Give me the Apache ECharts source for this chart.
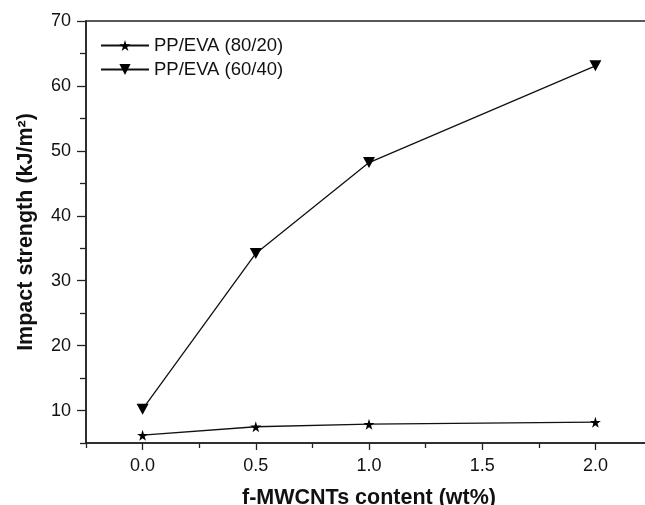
<!DOCTYPE html>
<html>
<head>
<meta charset="utf-8">
<title>Impact strength</title>
<style>
  html, body { margin: 0; padding: 0; background: #fff; }
</style>
</head>
<body>
    <div id="main" style="width: 645px; height: 505px;"></div>

    <script src="https://cdn.jsdelivr.net/npm/echarts@6/dist/echarts.min.js"></script>

    <script type="text/javascript">
        // data
        var xContent = [0.0, 0.5, 1.0, 2.0];
        var pp8020 = [6.2, 7.5, 7.9, 8.2];
        var pp6040 = [10.2, 34.2, 48.2, 63.1];

        var yMajor = [10, 20, 30, 40, 50, 60, 70];
        var yMinor = [5, 15, 25, 35, 45, 55, 65];
        var xMajor = [0.0, 0.5, 1.0, 1.5, 2.0];
        var xMinor = [-0.25, 0.25, 0.75, 1.25, 1.75, 2.25];

        var font = 'Liberation Sans, Arial, sans-serif';
        var ink = '#111';

        var star = 'path://M50,0 L61,35 L98,35 L68,57 L79,91 L50,70 L21,91 L32,57 L2,35 L39,35 Z';
        var downTri = 'path://M0,0 L10,0 L5,9 Z';

        function pairs(xs, ys) {
            return xs.map(function (x, i) { return [x, ys[i]]; });
        }

        var myChart = echarts.init(document.getElementById('main'));

        var option = {
            animation: false,
            backgroundColor: '#fff',
            grid: {
                left: 86, top: 21, right: -7, bottom: 62,
                outerBoundsMode: 'none',
                show: true, borderColor: '#222', borderWidth: 1.5
            },
            legend: {
                left: 100, top: 36, padding: 0,
                orient: 'vertical',
                itemWidth: 48, itemHeight: 14, itemGap: 5,
                textStyle: { fontFamily: font, fontSize: 18.5, color: ink },
                data: ['PP/EVA (80/20)', 'PP/EVA (60/40)']
            },
            xAxis: [{
                type: 'value', min: -0.25, max: 2.25,
                name: 'f-MWCNTs content (wt%)', nameLocation: 'middle', nameGap: 44,
                nameTextStyle: { fontFamily: font, fontSize: 21.5, fontWeight: 'bold', color: ink },
                axisLine: { show: true, onZero: false, lineStyle: { color: '#222', width: 1.5 } },
                axisTick: { show: true, inside: false, length: 7, customValues: xMajor, lineStyle: { color: '#222', width: 1.3 } },
                axisLabel: {
                    customValues: xMajor, margin: 14,
                    fontFamily: font, fontSize: 18, color: ink,
                    formatter: function (v) { return v.toFixed(1); }
                },
                splitLine: { show: false }
            }, {
                type: 'value', min: -0.25, max: 2.25, position: 'bottom',
                axisLine: { show: false, onZero: false },
                axisTick: { show: true, inside: false, length: 5, customValues: xMinor, lineStyle: { color: '#222', width: 1.3 } },
                axisLabel: { show: false },
                splitLine: { show: false }
            }],
            yAxis: [{
                type: 'value', min: 5, max: 70,
                name: 'Impact strength (kJ/m²)', nameLocation: 'middle', nameGap: 49,
                nameTextStyle: { fontFamily: font, fontSize: 21.5, fontWeight: 'bold', color: ink },
                axisLine: { show: true, onZero: false, lineStyle: { color: '#222', width: 1.5 } },
                axisTick: { show: true, inside: false, length: 9, customValues: yMajor, lineStyle: { color: '#222', width: 1.3 } },
                axisLabel: { customValues: yMajor, margin: 15, fontFamily: font, fontSize: 18, color: ink },
                splitLine: { show: false }
            }, {
                type: 'value', min: 5, max: 70, position: 'left',
                axisLine: { show: false, onZero: false },
                axisTick: { show: true, inside: false, length: 6, customValues: yMinor, lineStyle: { color: '#222', width: 1.3 } },
                axisLabel: { show: false },
                splitLine: { show: false }
            }],
            series: [{
                name: 'PP/EVA (80/20)',
                type: 'line',
                data: pairs(xContent, pp8020),
                symbol: star, symbolSize: 11,
                lineStyle: { color: '#111', width: 1.3 },
                itemStyle: { color: '#000' }
            }, {
                name: 'PP/EVA (60/40)',
                type: 'line',
                data: pairs(xContent, pp6040),
                symbol: downTri, symbolSize: [12, 11],
                lineStyle: { color: '#111', width: 1.3 },
                itemStyle: { color: '#000' }
            }]
        };

        myChart.setOption(option);
    </script>
</body>
</html>
